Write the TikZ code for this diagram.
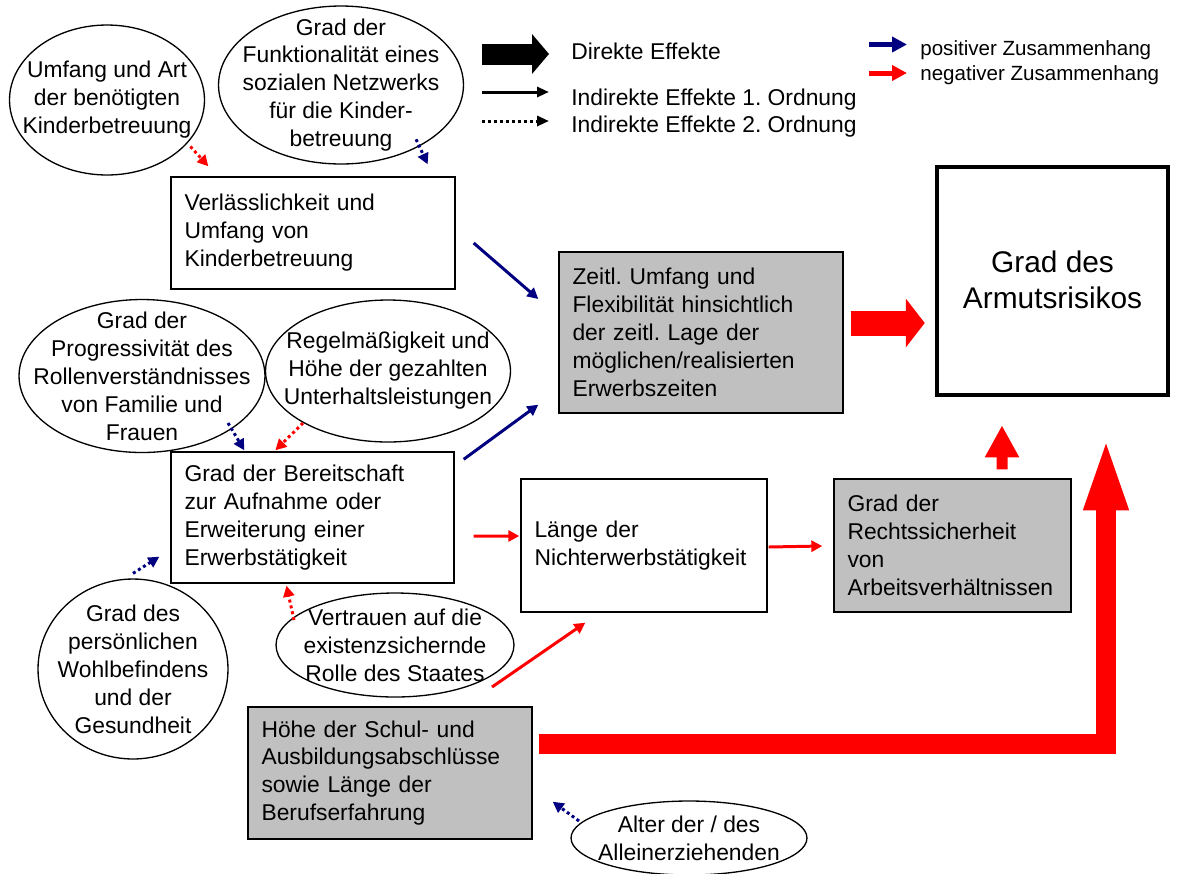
\documentclass[tikz,border=0pt]{standalone}
\usepackage{fontspec}
\setmainfont{Liberation Sans}
\usetikzlibrary{shapes.geometric,arrows.meta,calc}
\definecolor{posblue}{RGB}{0,0,128}
\definecolor{negred}{RGB}{255,0,0}
\definecolor{boxgray}{RGB}{192,192,192}
\frenchspacing
\newcommand{\diagfont}{\fontsize{13}{15.9}\selectfont}
\newcommand{\smallfont}{\fontsize{11.7}{14}\selectfont}
\newcommand{\bigfont}{\fontsize{17}{20.4}\selectfont}
\tikzset{
  oval/.style={ellipse, draw, line width=0.75pt, align=center, inner sep=-1.5cm, font=\diagfont},
  textbox/.style={draw, line width=0.8pt, align=left, inner xsep=0.27cm, inner ysep=0pt, font=\diagfont},
  graybox/.style={textbox, fill=boxgray},
  legendtext/.style={anchor=base west, inner sep=0pt, font=\diagfont},
  effect/.style={line width=1.7pt, -{Triangle[length=0.22cm,width=0.22cm]}},
  effecttwo/.style={effect, dash pattern=on 1.7pt off 1.7pt},
  fat/.style n args={3}{line width=#1, -{Triangle[length=#2,width=#3]}}
}
\begin{document}
\begin{tikzpicture}[x=0.02cm, y=-0.02cm]
  \useasboundingbox (0,0) rectangle (1196,873);
  % legend
  \node[legendtext] (direkt) at (571,59) {Direkte Effekte};
  \node[legendtext] (indeins) at (571,105) {Indirekte Effekte 1. Ordnung};
  \node[legendtext] (indzwei) at (571,132) {Indirekte Effekte 2. Ordnung};
  \node[legendtext, font=\smallfont] (positiv) at (920,55) {positiver Zusammenhang};
  \node[legendtext, font=\smallfont] (negativ) at (920,80) {negativer Zusammenhang};
  \draw[black, fat={0.42cm}{0.34cm}{0.78cm}] ($(direkt.base west)+(-89,-5)$) -- ($(direkt.base west)+(-22,-5)$);
  \draw[black, line width=1.7pt, -{Triangle[length=0.24cm,width=0.2cm]}] ($(indeins.base west)+(-89,-13)$) -- ($(indeins.base west)+(-22,-13)$);
  \draw[black, line width=1.7pt, dash pattern=on 1.7pt off 1.7pt, -{Triangle[length=0.24cm,width=0.2cm]}] ($(indzwei.base west)+(-89,-11)$) -- ($(indzwei.base west)+(-22,-11)$);
  \draw[posblue, fat={0.1cm}{0.3cm}{0.3cm}] ($(positiv.base west)+(-51,-10.5)$) -- ($(positiv.base west)+(-13,-10.5)$);
  \draw[negred, fat={0.1cm}{0.3cm}{0.3cm}] ($(negativ.base west)+(-51,-7)$) -- ($(negativ.base west)+(-13,-7)$);

  % ellipses
  \node[oval, minimum width=3.9cm, minimum height=3cm] (umfang) at (107,100) {Umfang und Art\\der benötigten\\Kinderbetreuung};
  \node[oval, minimum width=4.9cm, minimum height=3.16cm] (funkt) at (341,85) {Grad der\\Funktionalität eines\\sozialen Netzwerks\\für die Kinder-\\betreuung};
  \node[oval, minimum width=4.92cm, minimum height=3.06cm] (rolle) at (142,376) {Grad der\\Progressivität des\\Rollenverständnisses\\von Familie und\\Frauen};
  \node[oval, minimum width=4.9cm, minimum height=2.84cm] (unterh) at (388,371) {Regelmäßigkeit und\\Höhe der gezahlten\\Unterhaltsleistungen};
  \node[oval, minimum width=3.8cm, minimum height=3.6cm] (wohl) at (133,669) {Grad des\\persönlichen\\Wohlbefindens\\und der\\Gesundheit};
  \node[oval, minimum width=4.76cm, minimum height=2.08cm] (staat) at (395,645) {Vertrauen auf die\\existenzsichernde\\Rolle des Staates};
  \node[oval, minimum width=4.72cm, minimum height=1.48cm] (alter) at (689,838) {Alter der / des\\Alleinerziehenden};

  % boxes
  \node[textbox, text width=5.14cm, minimum height=2.24cm] (verl) at (313,233) {Verlässlichkeit und\\Umfang von\\Kinderbetreuung};
  \node[textbox, text width=5.12cm, minimum height=2.62cm] (bereit) at (312.5,517.5) {Grad der Bereitschaft\\zur Aufnahme oder\\Erweiterung einer\\Erwerbstätigkeit};
  \node[graybox, text width=5.14cm, minimum height=3.22cm] (zeit) at (701,332.5) {Zeitl. Umfang und\\Flexibilität hinsichtlich\\der zeitl. Lage der\\möglichen/realisierten\\Erwerbszeiten};
  \node[textbox, text width=4.38cm, minimum height=2.66cm] (laenge) at (644,545.5) {Länge der\\Nichterwerbstätigkeit};
  \node[graybox, text width=4.2cm, minimum height=2.66cm] (recht) at (952.5,545.5) {Grad der\\Rechtssicherheit\\von\\Arbeitsverhältnissen};
  \node[graybox, text width=5.14cm, minimum height=2.64cm] (schul) at (390,773) {Höhe der Schul- und\\Ausbildungsabschlüsse\\sowie Länge der\\Berufserfahrung};
  \node[draw, line width=2.6pt, minimum width=4.62cm, minimum height=4.56cm] (armut) at (1052.5,281) {};
  \node[anchor=north, inner sep=0pt, align=center, font=\bigfont] (armuttext) at ($(armut.north)+(0,86)$) {Grad des\\Armutsrisikos};

  % indirect effects 2nd order
  \draw[effecttwo, negred] ($(umfang.south east)+(14,-7)$) -- ($(verl.north west)+(38,-10)$);
  \draw[effecttwo, posblue] ($(funkt.south east)+(-12,-2)$) -- ($(verl.north east)+(-28,-12)$);
  \draw[effecttwo, posblue] ($(rolle.center)+(86,47)$) -- ($(bereit.north west)+(74,-1)$);
  \draw[effecttwo, negred] ($(unterh.center)+(-85,52)$) -- ($(bereit.north west)+(105,-1)$);
  \draw[effecttwo, posblue] ($(wohl.north)+(0,-5)$) -- ($(bereit.south west)+(-11,-27)$);
  \draw[effecttwo, negred] ($(staat.center)+(-101,-25)$) -- ($(bereit.south)+(-26,2)$);
  \draw[effecttwo, posblue] ($(alter.center)+(-110,-17)$) -- ($(schul.south east)+(20,-38)$);

  % indirect effects 1st order
  \draw[effect, posblue] ($(verl.east)+(18,10)$) -- ($(zeit.west)+(-20,-33.5)$);
  \draw[effect, posblue] ($(bereit.north east)+(9,8)$) -- ($(zeit.south west)+(-20,-9)$);
  \draw[effect, negred] ($(bereit.east)+(19,18.5)$) -- ($(laenge.west)+(-1,-9.5)$);
  \draw[effect, negred] ($(staat.center)+(97,42)$) -- ($(laenge.south west)+(65,10)$);
  \draw[effect, negred] ($(laenge.east)+(1,1.5)$) -- ($(recht.west)+(-11,0.5)$);

  % direct effects
  \draw[negred, fat={0.5cm}{0.38cm}{0.96cm}] ($(zeit.east)+(7,-9.5)$) -- ($(armut.west)+(-10,42)$);
  \draw[negred, fat={0.22cm}{0.64cm}{0.64cm}] ($(recht.north)+(49.5,-9)$) -- ($(armut.south)+(-50.5,28)$);
  \draw[negred, line join=miter, fat={0.4cm}{1.52cm}{0.78cm}] ($(schul.east)+(6,-29)$) -| ($(armut.south)+(53.5,37)$);
\end{tikzpicture}
\end{document}
